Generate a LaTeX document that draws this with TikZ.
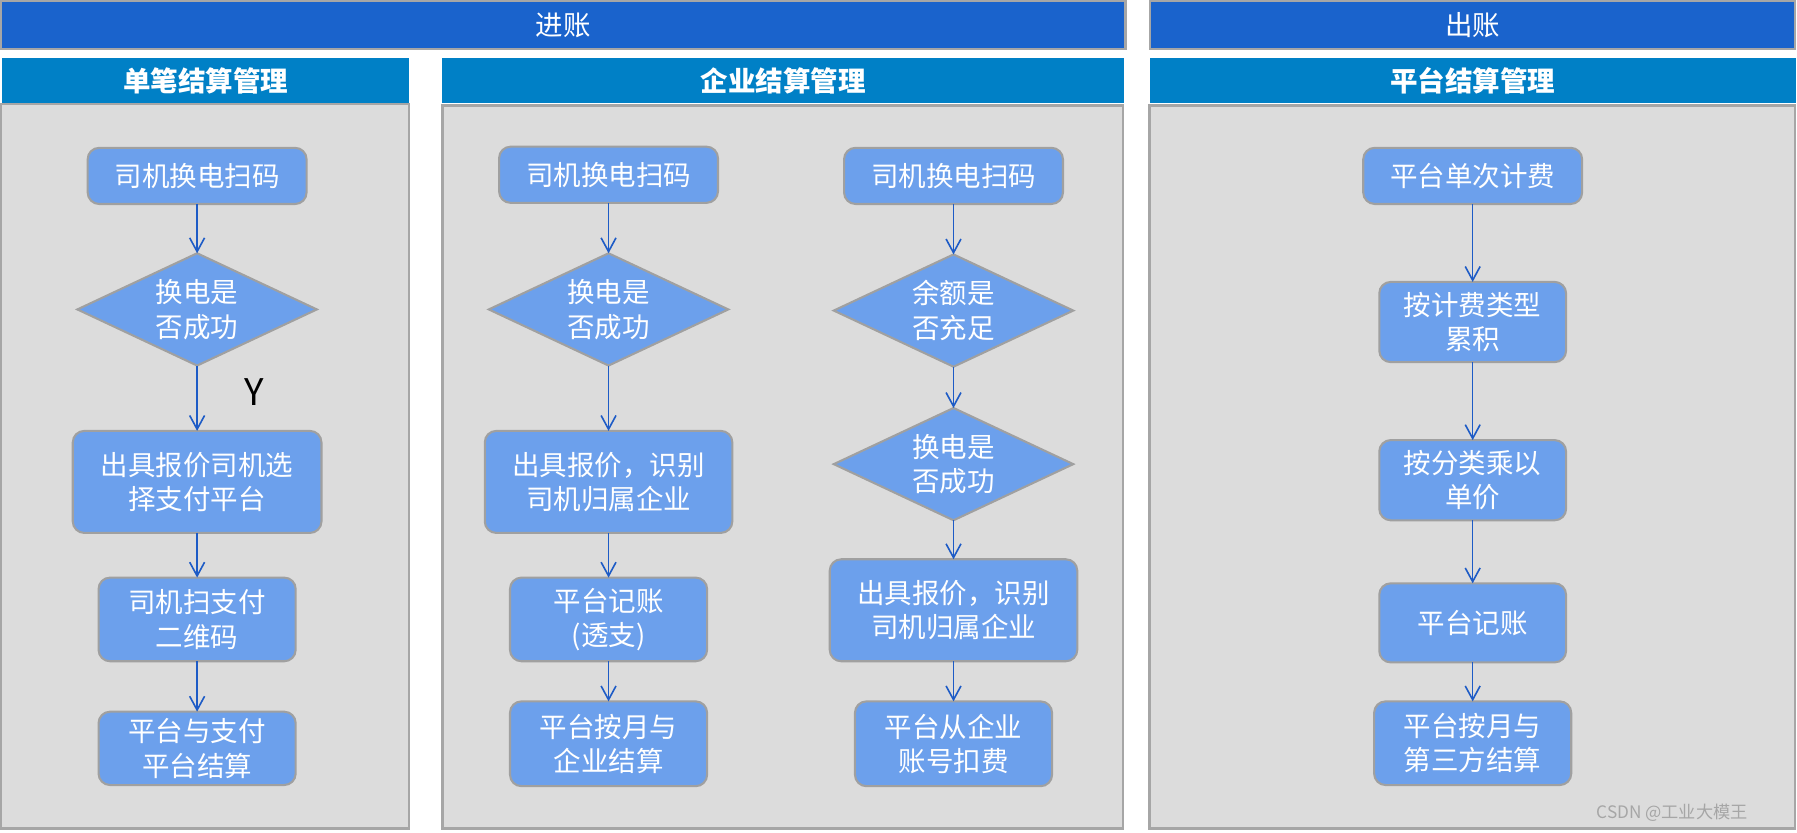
\documentclass[tikz,border=0pt]{standalone}
\usepackage{fontspec}
\setmainfont{Noto Sans CJK SC}
\usetikzlibrary{shapes.geometric,arrows.meta,positioning}

\definecolor{barblue}{HTML}{1A63CC}
\definecolor{headblue}{HTML}{0080C6}
\definecolor{panelgray}{HTML}{DCDCDC}
\definecolor{edgegray}{HTML}{A6A6A6}
\definecolor{boxblue}{HTML}{6CA0EC}
\definecolor{boxedge}{HTML}{A0A0A0}
\definecolor{flowblue}{HTML}{1D5BC6}

\begin{document}
\begin{tikzpicture}[x=0.5pt, y=-0.5pt, node distance=20pt,
	proc/.style={rectangle, rounded corners=5pt, draw=boxedge, line width=0.9pt, fill=boxblue, text=white, align=center, font=\fontsize{12}{15}\selectfont, inner sep=0pt, outer sep=0pt, minimum width=86pt, minimum height=36.5pt},
	test/.style={diamond, aspect=2.1, draw=boxedge, line width=0.9pt, fill=boxblue, text=white, align=center, font=\fontsize{12}{15}\selectfont, inner sep=0pt, outer sep=0pt, minimum width=104.5pt, minimum height=49pt},
	flow/.style={draw=flowblue, line width=0.7pt, -{Straight Barb[length=6pt,width=6.5pt]}},
	topbar/.style={rectangle, draw=edgegray, line width=1pt, fill=barblue, text=white, font=\fontsize{12}{12}\selectfont, minimum height=21pt, inner sep=0pt},
	headbar/.style={rectangle, fill=headblue, text=white, font=\bfseries\fontsize{12}{12}\selectfont, minimum height=19.5pt, inner sep=0pt},
	panel/.style={draw=edgegray, line width=1pt, fill=panelgray}]

	\useasboundingbox (0,0) rectangle (1568,726);

	% Bars and panels
	\node[topbar, minimum width=490.5pt] (inbar) at (491.5,22) {进账};
	\node[topbar, minimum width=281.5pt] (outbar) at (1285,22) {出账};
	\node[headbar, minimum width=177.5pt] (singlehead) at (179.5,70.5) {单笔结算管理};
	\node[headbar, minimum width=297.5pt] (firmhead) at (683.5,70.5) {企业结算管理};
	\node[headbar, minimum width=282pt] (platformhead) at (1285,70.5) {平台结算管理};
	\draw[panel] (1,91) rectangle (357,723);
	\draw[panel] (386,92) rectangle (980,723);
	\draw[panel] (1003,92) rectangle (1566,723);

	% Nodes: single settlement
	\node[proc, minimum width=95.5pt, minimum height=24.5pt] (scanA) at (172,153.5) {司机换电扫码};
	\node[test] (swapA) [below=21.5pt of scanA] {换电是\\否成功};
	\node[proc, minimum width=108.5pt, minimum height=44.5pt] (quoteA) [below=28.5pt of swapA] {出具报价司机选\\择支付平台};
	\node[proc, minimum height=36.5pt] (payA) [below=19.5pt of quoteA] {司机扫支付\\二维码};
	\node[proc, minimum height=32pt] (settleA) [below=22pt of payA] {平台与支付\\平台结算};

	% Nodes: enterprise settlement
	\node[proc, minimum width=95.5pt, minimum height=24.5pt] (scanB) at (531,152.5) {司机换电扫码};
	\node[test] (swapB) [below=22pt of scanB] {换电是\\否成功};
	\node[proc, minimum width=108pt, minimum height=44.5pt] (quoteB) [below=28.5pt of swapB] {出具报价，识别\\司机归属企业};
	\node[proc, minimum height=36.5pt] (bookB) [below=19.5pt of quoteB] {平台记账\\(透支)};
	\node[proc, minimum height=37pt] (settleB) [below=17.5pt of bookB] {平台按月与\\企业结算};

	\node[proc, minimum width=95.5pt, minimum height=24.5pt] (scanC) at (832,153.5) {司机换电扫码};
	\node[test] (fundC) [below=22pt of scanC] {余额是\\否充足};
	\node[test] (swapC) [below=18pt of fundC] {换电是\\否成功};
	\node[proc, minimum width=108pt, minimum height=44.5pt] (quoteC) [below=17pt of swapC] {出具报价，识别\\司机归属企业};
	\node[proc, minimum height=37pt] (deductC) [below=17.5pt of quoteC] {平台从企业\\账号扣费};

	% Nodes: platform settlement
	\node[proc, minimum width=95.5pt, minimum height=24.5pt] (feeD) at (1285,153.5) {平台单次计费};
	\node[proc, minimum width=81.5pt, minimum height=35pt] (sumD) [below=34pt of feeD] {按计费类型\\累积};
	\node[proc, minimum width=81.5pt, minimum height=35pt] (priceD) [below=34pt of sumD] {按分类乘以\\单价};
	\node[proc, minimum width=81.5pt, minimum height=34.5pt] (bookD) [below=27.5pt of priceD] {平台记账};
	\node[proc, minimum height=36.5pt] (settleD) [below=17pt of bookD] {平台按月与\\第三方结算};

	\node[text=gray!70, font=\fontsize{7.5}{7.5}\selectfont, anchor=east] (credit) at (1532,709) {CSDN @工业大模王};

	% Flows
	\draw[flow] (scanA) -- (swapA);
	\draw[flow] (swapA) -- node[pos=0.4, right=17pt, text=black, font=\fontsize{16}{16}\selectfont]{Y} (quoteA);
	\draw[flow] (quoteA) -- (payA);
	\draw[flow] (payA) -- (settleA);

	\draw[flow] (scanB) -- (swapB);
	\draw[flow] (swapB) -- (quoteB);
	\draw[flow] (quoteB) -- (bookB);
	\draw[flow] (bookB) -- (settleB);

	\draw[flow] (scanC) -- (fundC);
	\draw[flow] (fundC) -- (swapC);
	\draw[flow] (swapC) -- (quoteC);
	\draw[flow] (quoteC) -- (deductC);

	\draw[flow] (feeD) -- (sumD);
	\draw[flow] (sumD) -- (priceD);
	\draw[flow] (priceD) -- (bookD);
	\draw[flow] (bookD) -- (settleD);
\end{tikzpicture}
\end{document}
